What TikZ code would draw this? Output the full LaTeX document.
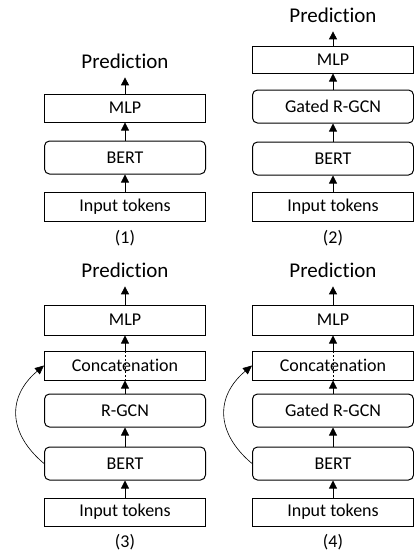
\documentclass[tikz,border=0pt]{standalone}
\usepackage{fontspec}
\setmainfont{Carlito}[Ligatures={NoCommon}]
\usetikzlibrary{arrows.meta}
\tikzset{
  blk/.style={draw, line width=1pt, minimum width=161pt, inner sep=0pt, font=\fontsize{18}{20}\selectfont},
  rblk/.style={blk, rounded corners=5pt},
  pred/.style={inner sep=0pt, outer ysep=9pt, font=\fontsize{21}{23}\selectfont},
  lbl/.style={inner sep=0pt, font=\fontsize{18}{20}\selectfont},
  up/.style={-{Triangle[width=8pt,length=8pt]}, line width=0.8pt},
  skip/.style={-{Triangle[width=8pt,length=9pt]}, line width=0.6pt},
  through/.style={dashed, dash pattern=on 2pt off 2pt, line width=0.6pt}
}
\begin{document}
\begin{tikzpicture}[x=1pt,y=-1pt]
\useasboundingbox (0,0) rectangle (414,554);
\node[pred] (predA) at (125,61) {Prediction};
\node[blk, minimum height=28pt] (mlpA) at (125,108) {MLP};
\node[rblk, minimum height=33pt] (bertA) at (125,157.5) {BERT};
\node[blk, minimum height=29pt] (inA) at (125,206.5) {Input tokens};
\node[lbl] (capA) at (125,238) {(1)};
\draw[up] (inA) -- (bertA); \draw[up] (bertA) -- (mlpA); \draw[up] (mlpA) -- (predA);
\node[pred] (predB) at (333,15) {Prediction};
\node[blk, minimum height=27pt] (mlpB) at (333,59.5) {MLP};
\node[rblk, minimum height=33pt] (gcnB) at (333,106.5) {Gated R-GCN};
\node[rblk, minimum height=33pt] (bertB) at (333,158.5) {BERT};
\node[blk, minimum height=29pt] (inB) at (333,206.5) {Input tokens};
\node[lbl] (capB) at (333,238) {(2)};
\draw[up] (inB) -- (bertB); \draw[up] (bertB) -- (gcnB); \draw[up] (gcnB) -- (mlpB); \draw[up] (mlpB) -- (predB);
\node[pred] (predC) at (125,270) {Prediction};
\node[blk, minimum height=30pt] (mlpC) at (125,320) {MLP};
\node[blk, minimum height=29pt] (catC) at (125,365.5) {Concatenation};
\node[rblk, minimum height=33pt] (gcnC) at (125,410.5) {R-GCN};
\node[rblk, minimum height=33pt] (bertC) at (125,463.5) {BERT};
\node[blk, minimum height=28pt] (inC) at (125,512) {Input tokens};
\node[lbl] (capC) at (125,542) {(3)};
\draw[up] (inC) -- (bertC); \draw[up] (bertC) -- (gcnC); \draw[up] (gcnC) -- (catC); \draw[up] (catC) -- (mlpC); \draw[up] (mlpC) -- (predC);
\draw[through] (catC.south) -- (catC.north);
\draw[skip] (bertC.west) to[out=140, in=220, looseness=1.25] (catC.west);
\node[pred] (predD) at (333,270) {Prediction};
\node[blk, minimum height=30pt] (mlpD) at (333,320) {MLP};
\node[blk, minimum height=29pt] (catD) at (333,365.5) {Concatenation};
\node[rblk, minimum height=33pt] (gcnD) at (333,410.5) {Gated R-GCN};
\node[rblk, minimum height=33pt] (bertD) at (333,463.5) {BERT};
\node[blk, minimum height=28pt] (inD) at (333,512) {Input tokens};
\node[lbl] (capD) at (333,542) {(4)};
\draw[up] (inD) -- (bertD); \draw[up] (bertD) -- (gcnD); \draw[up] (gcnD) -- (catD); \draw[up] (catD) -- (mlpD); \draw[up] (mlpD) -- (predD);
\draw[through] (catD.south) -- (catD.north);
\draw[skip] (bertD.west) to[out=140, in=220, looseness=1.25] (catD.west);
\end{tikzpicture}
\end{document}
